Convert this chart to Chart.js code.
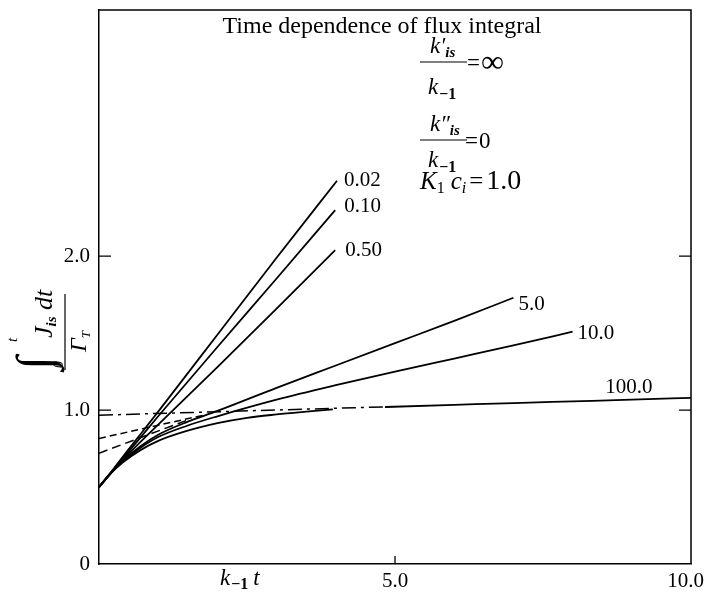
<!DOCTYPE html>
<html>
<head>
<meta charset="utf-8">
<script src="https://cdn.jsdelivr.net/npm/chart.js@4.4.1/dist/chart.umd.min.js"></script>
<style>
  html, body { margin: 0; padding: 0; background: #fff; }
</style>
</head>
<body>
<canvas id="c" width="705" height="595"></canvas>
<script>
// --- data ---
var xTicks = [5, 10];
var yTicks = [0, 1, 2];

var t_002 = [0, 0.25, 0.5, 1, 2, 3, 4.02];
var f_002 = [0.5, 0.62, 0.745, 0.99, 1.49, 1.99, 2.49];

var t_010 = [0, 0.25, 0.5, 1, 2, 3, 3.99];
var f_010 = [0.5, 0.615, 0.73, 0.96, 1.41, 1.855, 2.30];

var t_050 = [0, 0.25, 0.5, 1, 2, 3, 3.99];
var f_050 = [0.5, 0.61, 0.715, 0.905, 1.28, 1.66, 2.04];

var t_5 = [0, 0.2, 0.4, 0.7, 1, 1.5, 2, 3, 4, 5, 6, 7];
var f_5 = [0.5, 0.59, 0.67, 0.765, 0.84, 0.925, 0.995, 1.145, 1.29, 1.435, 1.58, 1.73];

var t_10 = [0, 0.2, 0.4, 0.7, 1, 1.5, 2, 3, 4, 5, 6, 7, 8];
var f_10 = [0.5, 0.59, 0.665, 0.755, 0.825, 0.9, 0.96, 1.068, 1.162, 1.25, 1.335, 1.42, 1.51];

// null = the break where only the dash-dot asymptote shows
var t_100 = [0, 0.2, 0.4, 0.7, 1, 1.4, 2, 2.5, 3, 3.5, 3.95, 4.4, 4.83, 6, 7, 8, 9, 10];
var f_100 = [0.5, 0.59, 0.66, 0.74, 0.8, 0.855, 0.915, 0.95, 0.972, 0.99, 1.005, null, 1.02, 1.034, 1.046, 1.057, 1.068, 1.08];

// asymptotes (dashed)
var ta_5 = [0, 1.5];
var fa_5 = [0.72, 0.936];
var ta_10 = [0, 1.8];
var fa_10 = [0.816, 0.97];
var ta_100 = [0, 4.9];
var fa_100 = [0.967, 1.022];

var curveLabels = ['0.02', '0.10', '0.50', '5.0', '10.0', '100.0'];

function pts(xs, ys) {
  return xs.map(function(x, i) { return {x: x, y: ys[i]}; });
}

var SERIF = '"Liberation Serif", "DejaVu Serif", serif';

function solid(label, xs, ys) {
  return {
    label: label,
    data: pts(xs, ys),
    borderColor: '#000',
    borderWidth: 1.8,
    pointRadius: 0,
    cubicInterpolationMode: 'monotone',
    spanGaps: false,
    fill: false
  };
}
function dashed(label, xs, ys, dash) {
  return {
    label: label,
    data: pts(xs, ys),
    borderColor: '#000',
    borderWidth: 1.5,
    borderDash: dash,
    pointRadius: 0,
    fill: false
  };
}

var datasets = [
  solid(curveLabels[0], t_002, f_002),
  solid(curveLabels[1], t_010, f_010),
  solid(curveLabels[2], t_050, f_050),
  solid(curveLabels[3], t_5, f_5),
  solid(curveLabels[4], t_10, f_10),
  solid(curveLabels[5], t_100, f_100),
  dashed('asym 5.0', ta_5, fa_5, [9, 5]),
  dashed('asym 10.0', ta_10, fa_10, [7, 4]),
  dashed('asym 100.0', ta_100, fa_100, [14, 5, 3, 5])
];

// draw a run of text pieces left to right: [text, font, dy, extra gap after]
function run(ctx, x, y, parts) {
  parts.forEach(function(p) {
    ctx.font = p[1];
    ctx.fillText(p[0], x, y + (p[2] || 0));
    x += ctx.measureText(p[0]).width + (p[3] || 0);
  });
  return x;
}

var textPlugin = {
  id: 'texts',
  afterDraw: function(chart) {
    var ctx = chart.ctx;
    var a = chart.chartArea;
    var sx = chart.scales.x, sy = chart.scales.y;
    ctx.save();
    ctx.strokeStyle = '#000';
    ctx.fillStyle = '#000';

    // frame top + right
    ctx.lineWidth = 1.5;
    ctx.beginPath();
    ctx.moveTo(a.left, a.top);
    ctx.lineTo(a.right, a.top);
    ctx.lineTo(a.right, a.bottom);
    ctx.stroke();

    // inward tick marks
    ctx.lineWidth = 1.3;
    ctx.beginPath();
    yTicks.forEach(function(v) {
      if (v === 0) return;
      var py = sy.getPixelForValue(v);
      ctx.moveTo(a.left, py); ctx.lineTo(a.left + 12, py);
      ctx.moveTo(a.right, py); ctx.lineTo(a.right - 12, py);
    });
    xTicks.forEach(function(v) {
      if (v === 10) return;
      var px = sx.getPixelForValue(v);
      ctx.moveTo(px, a.bottom); ctx.lineTo(px, a.bottom - 8);
    });
    ctx.stroke();

    ctx.textBaseline = 'alphabetic';

    // x tick labels (kept inside the canvas at the right edge)
    ctx.textAlign = 'center';
    ctx.font = '21px ' + SERIF;
    xTicks.forEach(function(v) {
      var s = v.toFixed(1);
      var w = ctx.measureText(s).width;
      var px = Math.min(sx.getPixelForValue(v), chart.width - w / 2 - 1);
      ctx.fillText(s, px, a.bottom + 23);
    });

    // title
    ctx.font = '24px ' + SERIF;
    ctx.fillText('Time dependence of flux integral', 382, 33);
    ctx.textAlign = 'left';

    var it22 = 'italic 23px ' + SERIF;
    var sub = 'bold italic 15px ' + SERIF;
    var subb = 'bold 16px ' + SERIF;
    var rm22 = '23px ' + SERIF;

    // k'_is / k_-1 = inf
    run(ctx, 430, 53, [['k\u2032', it22], ['is', sub, 4]]);
    run(ctx, 428, 94, [['k', it22, 0, 1], ['\u22121', subb, 5]]);
    ctx.lineWidth = 1.2;
    ctx.beginPath(); ctx.moveTo(420, 62); ctx.lineTo(467, 62); ctx.stroke();
    run(ctx, 467, 70, [['=', rm22]]);
    run(ctx, 481, 72, [['\u221e', '32px ' + SERIF]]);

    // k''_is / k_-1 = 0
    run(ctx, 430, 131, [['k\u2033', it22], ['is', sub, 4]]);
    run(ctx, 428, 167, [['k', it22, 0, 1], ['\u22121', subb, 5]]);
    ctx.beginPath(); ctx.moveTo(420, 140); ctx.lineTo(467, 140); ctx.stroke();
    run(ctx, 465, 148, [['=', rm22, 0, 1], ['0', rm22]]);

    // K1 ci = 1.0
    run(ctx, 420, 189, [
      ['K', 'italic 25px ' + SERIF],
      ['1', '16px ' + SERIF, 4, 6],
      ['c', 'italic 25px ' + SERIF],
      ['i', 'italic 16px ' + SERIF, 4, 3],
      ['=', '25px ' + SERIF, 0, 3],
      ['1.0', '28px ' + SERIF]
    ]);

    // curve labels, placed next to line ends
    ctx.font = '21px ' + SERIF;
    var ends = [
      [t_002, f_002, 7, 5],
      [t_010, f_010, 9, 2],
      [t_050, f_050, 10, 6],
      [t_5, f_5, 5, 12],
      [t_10, f_10, 5, 7]
    ];
    ends.forEach(function(e, i) {
      var xs = e[0], ys = e[1];
      var px = sx.getPixelForValue(xs[xs.length - 1]);
      var py = sy.getPixelForValue(ys[ys.length - 1]);
      ctx.fillText(curveLabels[i], px + e[2], py + e[3]);
    });
    ctx.fillText(curveLabels[5], sx.getPixelForValue(8.55), sy.getPixelForValue(1.06) - 8);

    // x axis title  k_-1 t
    run(ctx, 220, 585, [['k', it22, 0, 1], ['\u22121', subb, 4, 5], ['t', it22]]);

    // y axis title, rotated fraction
    ctx.translate(65, 330);
    ctx.rotate(-Math.PI / 2);
    ctx.lineWidth = 1.2;
    ctx.beginPath(); ctx.moveTo(-40, 0); ctx.lineTo(36, 0); ctx.stroke();
    run(ctx, -40, -14, [['\u222b', 'italic 50px ' + SERIF]]);
    run(ctx, -12, -48, [['t', 'italic 15px ' + SERIF]]);
    run(ctx, -38, -2, [['0', 'italic 14px ' + SERIF]]);
    run(ctx, -8, -13, [['J', 'italic 26px ' + SERIF], ['is', sub, 4], [' dt', 'italic 26px ' + SERIF]]);
    run(ctx, -22, 21, [['\u0393', 'italic 24px ' + SERIF], ['T', 'italic 13px ' + SERIF, 4]]);

    ctx.restore();
  }
};

new Chart(document.getElementById('c'), {
  type: 'line',
  data: { datasets: datasets },
  plugins: [textPlugin],
  options: {
    responsive: false,
    animation: false,
    events: [],
    layout: { padding: { left: 0, right: 14, top: 10, bottom: 0 } },
    plugins: { legend: { display: false }, tooltip: { enabled: false } },
    scales: {
      x: {
        type: 'linear',
        min: 0,
        max: 10,
        grid: { display: false, drawTicks: false },
        border: { display: true, color: '#000', width: 1.5 },
        afterBuildTicks: function(scale) {
          scale.ticks = xTicks.map(function(v) { return {value: v}; });
        },
        afterFit: function(scale) {
          scale.height = 31;
          scale.paddingLeft = 0;
          scale.paddingRight = 0;
        },
        ticks: { display: false }
      },
      y: {
        type: 'linear',
        min: 0,
        max: 3.6,
        grid: { display: false, drawTicks: false },
        border: { display: true, color: '#000', width: 1.5 },
        afterBuildTicks: function(scale) {
          scale.ticks = yTicks.map(function(v) { return {value: v}; });
        },
        afterFit: function(scale) {
          scale.width = 99;
          scale.paddingTop = 0;
          scale.paddingBottom = 0;
        },
        ticks: {
          color: '#000',
          padding: 9,
          font: { family: SERIF, size: 21 },
          callback: function(v) { return v === 0 ? '0' : v.toFixed(1); }
        }
      }
    }
  }
});
</script>
</body>
</html>
